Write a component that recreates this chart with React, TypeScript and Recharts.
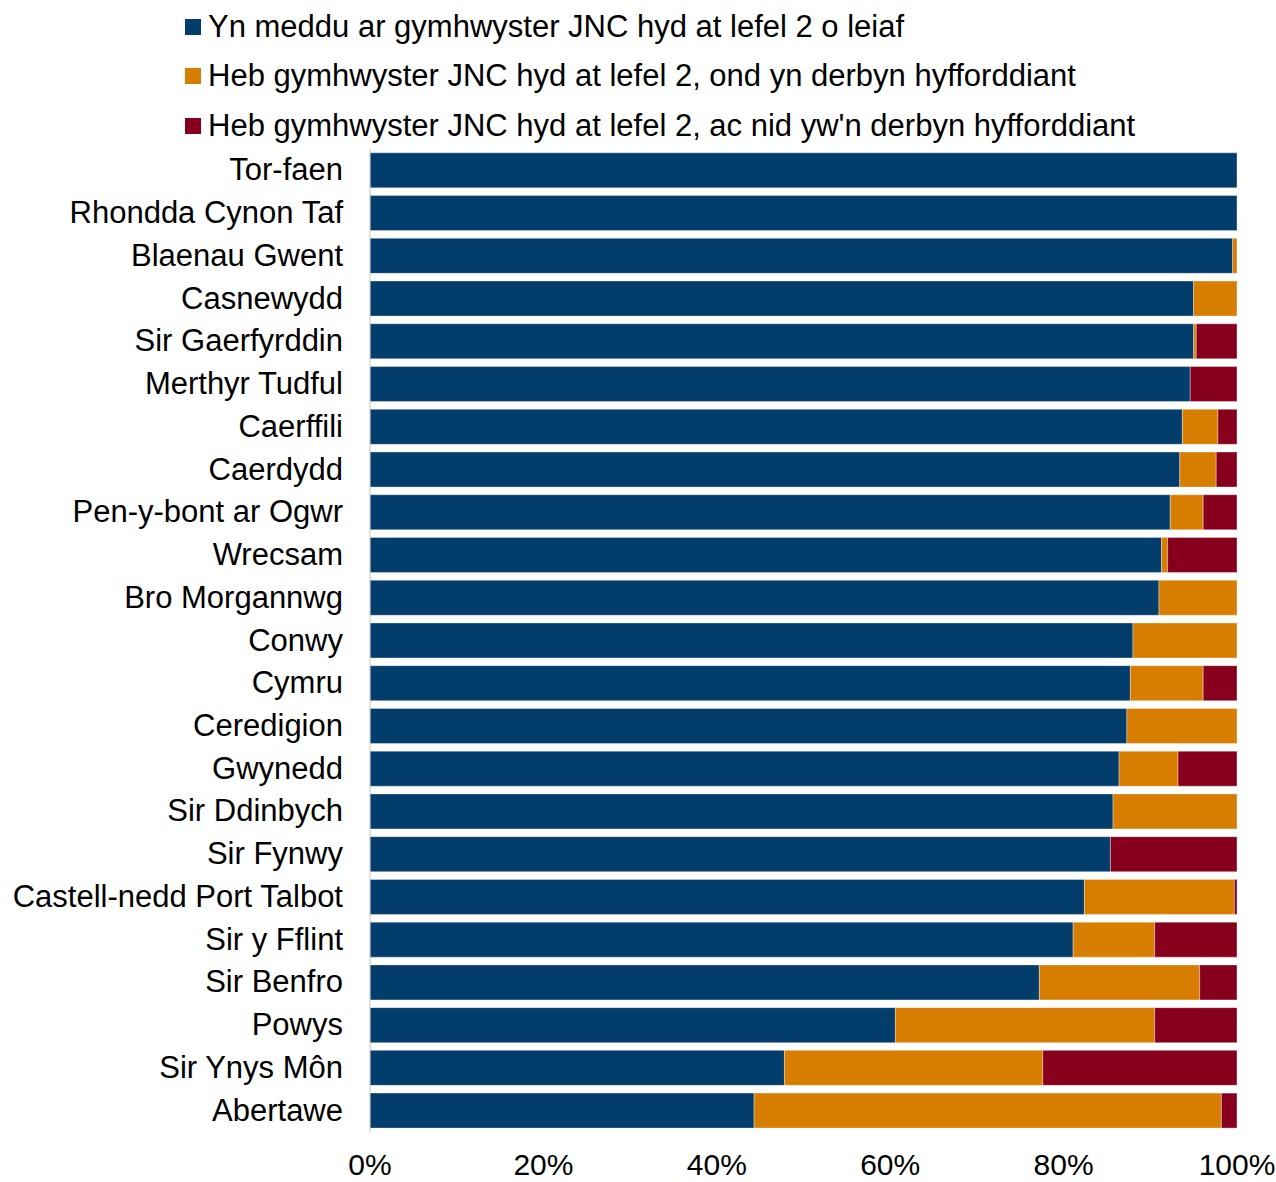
import { BarChart, Bar, XAxis, YAxis } from "recharts";

// Share of staff by qualification status, per local authority (%)
const categories = [
  "Tor-faen",
  "Rhondda Cynon Taf",
  "Blaenau Gwent",
  "Casnewydd",
  "Sir Gaerfyrddin",
  "Merthyr Tudful",
  "Caerffili",
  "Caerdydd",
  "Pen-y-bont ar Ogwr",
  "Wrecsam",
  "Bro Morgannwg",
  "Conwy",
  "Cymru",
  "Ceredigion",
  "Gwynedd",
  "Sir Ddinbych",
  "Sir Fynwy",
  "Castell-nedd Port Talbot",
  "Sir y Fflint",
  "Sir Benfro",
  "Powys",
  "Sir Ynys Môn",
  "Abertawe",
];

const qualified = [
  100, 100, 99.5, 95.0, 95.0, 94.6, 93.7, 93.4, 92.3, 91.3, 91.0, 88.0, 87.7,
  87.3, 86.4, 85.7, 85.4, 82.4, 81.1, 77.2, 60.6, 47.8, 44.3,
];
const inTraining = [
  0, 0, 0.5, 5.0, 0.3, 0, 4.1, 4.2, 3.8, 0.7, 9.0, 12.0, 8.4, 12.7, 6.8, 14.3,
  0, 17.3, 9.4, 18.5, 29.9, 29.8, 53.9,
];
const noTraining = [
  0, 0, 0, 0, 4.7, 5.4, 2.2, 2.4, 3.9, 8.0, 0, 0, 3.9, 0, 6.8, 0, 14.6, 0.3,
  9.5, 4.3, 9.5, 22.4, 1.8,
];

const xTicks = [0, 20, 40, 60, 80, 100];

const seriesNames = [
  "Yn meddu ar gymhwyster JNC hyd at lefel 2 o leiaf",
  "Heb gymhwyster JNC hyd at lefel 2, ond yn derbyn hyfforddiant",
  "Heb gymhwyster JNC hyd at lefel 2, ac nid yw'n derbyn hyfforddiant",
];
const COLORS = ["#023d6b", "#d77d00", "#86001d"];

const data = categories.map((name, i) => ({
  name,
  qualified: qualified[i],
  inTraining: inTraining[i],
  noTraining: noTraining[i],
}));

const FONT = "'Liberation Sans', Arial, sans-serif";

export default function App() {
  return (
    <div style={{ position: "absolute", left: 0, top: 0, width: 1276, height: 1182, fontFamily: FONT }}>
      <div style={{ position: "absolute", left: 185, top: 2, zIndex: 1 }}>
        {seriesNames.map((s, i) => (
          <div
            key={s}
            style={{ display: "flex", alignItems: "center", height: 49.5, fontSize: 31, color: "#000", whiteSpace: "nowrap" }}
          >
            <span
              style={{ width: 16, height: 16, background: COLORS[i], marginRight: 7, display: "inline-block", flexShrink: 0 }}
            />
            <span>{s}</span>
          </div>
        ))}
      </div>
      <BarChart
        width={1276}
        height={1182}
        layout="vertical"
        data={data}
        margin={{ top: 149, right: 39, left: 0, bottom: 0 }}
        barCategoryGap="9%"
      >
        <XAxis
          type="number"
          domain={[0, 100]}
          ticks={xTicks}
          tickFormatter={(v) => `${v}%`}
          axisLine={false}
          tickLine={false}
          tickSize={0}
          tickMargin={22}
          height={50}
          interval={0}
          tick={{ fill: "#000", fontSize: 30, fontFamily: FONT }}
        />
        <YAxis
          type="category"
          dataKey="name"
          width={370}
          interval={0}
          tickLine={false}
          tickSize={0}
          tickMargin={27}
          axisLine={{ stroke: "#c4c4c4", strokeWidth: 1 }}
          tick={{ fill: "#000", fontSize: 31, fontFamily: FONT, dy: -1 }}
        />
        <Bar dataKey="qualified" stackId="a" fill={COLORS[0]} stroke="#ffffff" strokeOpacity={0.35} isAnimationActive={false} />
        <Bar dataKey="inTraining" stackId="a" fill={COLORS[1]} stroke="#ffffff" strokeOpacity={0.35} isAnimationActive={false} />
        <Bar dataKey="noTraining" stackId="a" fill={COLORS[2]} stroke="#ffffff" strokeOpacity={0.35} isAnimationActive={false} />
      </BarChart>
    </div>
  );
}
